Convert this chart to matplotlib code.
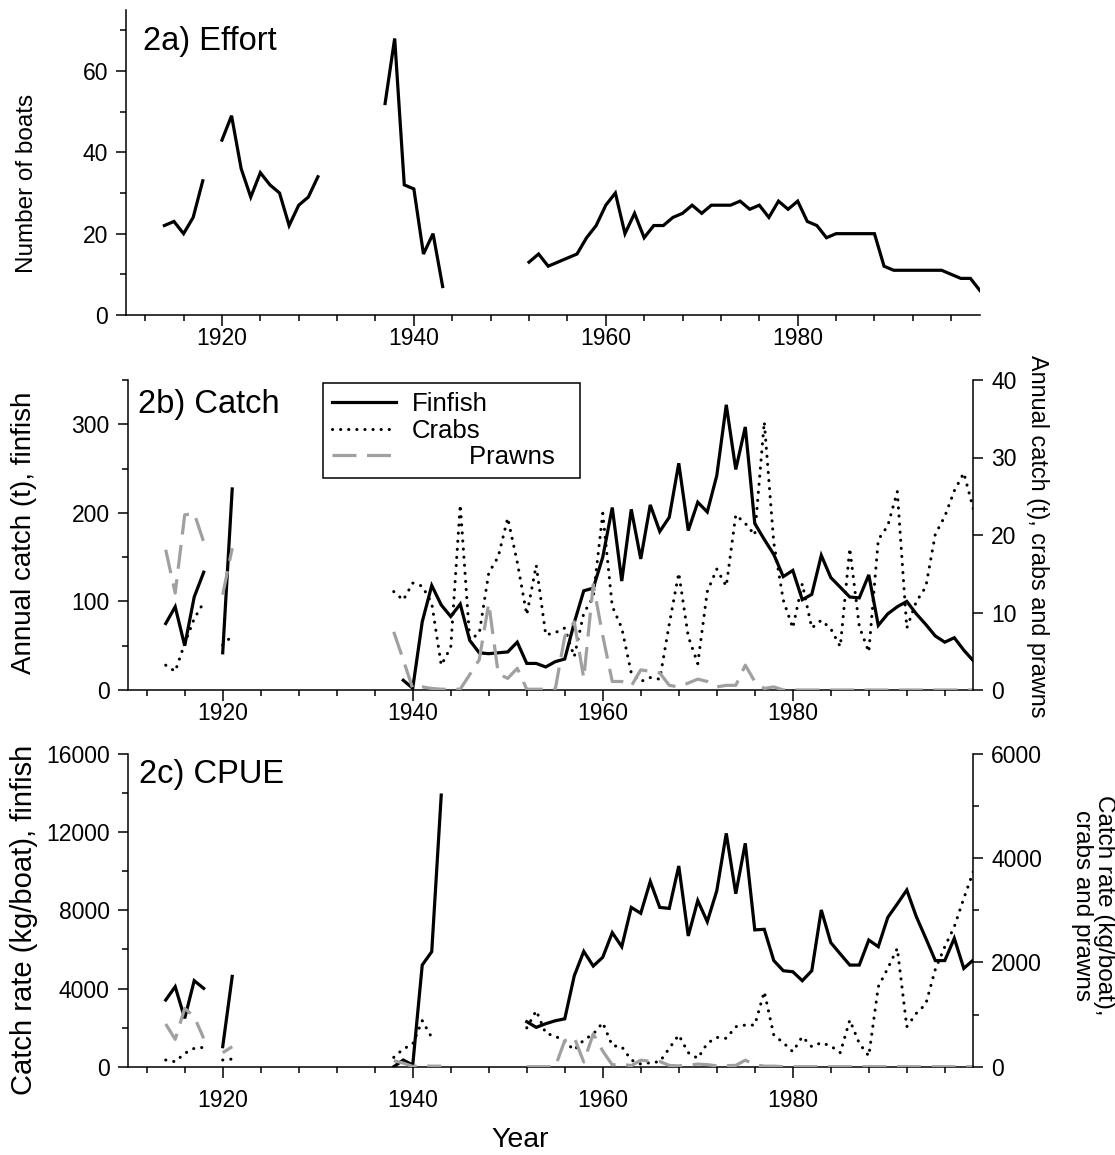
import numpy as np
import matplotlib
matplotlib.use("Agg")
import matplotlib.pyplot as plt
from matplotlib.ticker import MultipleLocator, FixedLocator

plt.rcParams['font.family'] = ['Liberation Sans', 'DejaVu Sans']

N = None
years = list(range(1914, 2000))

# ---- 2a) Effort: number of boats (1914..1999) ----
effort = [22, 23, 20, 24, 33, N,                                   # 1914-1919
          43, 49, 36, 29, 35, 32, 30, 22, 27, 29,                  # 1920-1929
          34, N, N, N, N, N, N, 52, 68, 32,                        # 1930-1939
          31, 15, 20, 7, N, N, N, N, N, N,                         # 1940-1949
          N, N, 13, 15, 12, 13, 14, 15, 19, 22,                    # 1950-1959
          27, 30, 20, 25, 19, 22, 22, 24, 25, 27,                  # 1960-1969
          25, 27, 27, 27, 28, 26, 27, 24, 28, 26,                  # 1970-1979
          28, 23, 22, 19, 20, 20, 20, 20, 20, 12,                  # 1980-1989
          11, 11, 11, 11, 11, 11, 10, 9, 9, 6]                     # 1990-1999

# ---- 2b) Annual catch (t) ----
catch_finfish = [75, 94, 50, 105, 133, N,
                 42, 227, N, N, N, N, N, N, N, N,
                 N, N, N, N, N, N, N, N, N, 11,
                 2, 77, 118, 96, 83, 97, 56, 42, 41, 42,
                 43, 54, 30, 30, 26, 32, 35, 76, 112, 115,
                 150, 206, 123, 204, 148, 209, 179, 195, 256, 180,
                 212, 201, 242, 322, 249, 297, 188, 170, 153, 128,
                 135, 102, 108, 152, 127, 116, 105, 104, 130, 73,
                 86, 94, 100, 86, 74, 61, 54, 59, 45, 33]

catch_crabs = [3.2, 2.4, 6.0, 9.2, 11.3, N,
               5.8, 7.0, N, N, N, N, N, N, N, N,
               N, N, N, N, N, N, N, N, 12.7, 11.6,
               13.8, 13.4, 11.2, 3.2, 5.5, 23.9, 6.5, 7.3, 15.1, 17.2,
               22.2, 16.5, 9.7, 16.1, 7.1, 7.4, 8.0, 4.3, 9.9, 12.0,
               22.8, 10.8, 8.0, 2.2, 1.1, 1.6, 1.4, 8.5, 15.1, 6.9,
               3.4, 12.7, 15.6, 13.4, 22.6, 21.5, 20.0, 34.6, 19.0, 11.6,
               8.0, 13.7, 8.0, 9.0, 7.9, 5.6, 18.3, 8.2, 4.9, 19.4,
               21.2, 25.6, 8.0, 11.4, 13.3, 20.1, 22.4, 25.7, 28.0, 23.4]

catch_prawns = [18.1, 12.5, 22.6, 22.8, 19.1, N,
                12.3, 18.3, N, N, N, N, N, N, N, N,
                N, N, N, N, N, N, N, N, 7.5, 3.9,
                0.2, 0.4, 0.2, 0.1, 0.1, 0.1, 2.0, 3.9, 11.2, 2.1,
                1.5, 2.8, 0.1, 0.1, 0.1, 0.1, 6.9, 8.8, 1.5, 13.6,
                7.0, 1.1, 1.1, 0.5, 2.6, 2.4, 2.2, 0.6, 0.4, 0.9,
                1.4, 1.1, 0.4, 0.6, 0.6, 3.2, 1.1, 0.2, 0.4, 0.0,
                0.0, 0.0, 0.0, 0.0, 0.0, 0.0, 0.0, 0.0, 0.0, 0.0,
                0.0, 0.0, 0.0, 0.0, 0.0, 0.0, 0.0, 0.0, 0.0, 0.0]

# ---- 2c) CPUE (kg/boat) ----
cpue_finfish = [3412, 4094, 2474, 4401, 4009, N,
                1024, 4620, N, N, N, N, N, N, N, N,
                N, N, N, N, N, N, N, N, 0, 341,
                85, 5203, 5885, 13900, N, N, N, N, N, N,
                N, N, 2303, 2013, 2200, 2350, 2450, 4650, 5900, 5150,
                5600, 6860, 6140, 8150, 7850, 9480, 8150, 8100, 10270, 6690,
                8500, 7420, 9000, 11940, 8850, 11430, 7000, 7030, 5430, 4910,
                4860, 4400, 4910, 8020, 6350, 5770, 5200, 5200, 6480, 6140,
                7640, 8330, 9040, 7680, 6570, 5430, 5430, 6570, 5030, 5460]

cpue_crabs = [128, 96, 256, 352, 371, N,
              128, 147, N, N, N, N, N, N, N, N,
              N, N, N, N, N, N, N, N, 179, 339,
              435, 883, 560, N, N, N, N, N, N, N,
              N, N, 745, 1075, 640, 588, 480, 320, 512, 627,
              844, 403, 384, 128, 51, 77, 96, 352, 608, 269,
              160, 448, 563, 544, 767, 799, 799, 1439, 608, 460,
              288, 576, 384, 460, 397, 269, 895, 448, 205, 1535,
              1887, 2270, 767, 1023, 1202, 1867, 2302, 2686, 3230, 3743]

cpue_prawns = [819, 524, 1119, 959, 544, N,
               269, 384, N, N, N, N, N, N, N, N,
               N, N, N, N, N, N, N, N, 115, 70,
               5, 15, 10, 10, N, N, N, N, N, N,
               N, N, 0, 0, 0, 0, 500, 560, 90, 630,
               300, 35, 50, 20, 125, 105, 100, 25, 15, 30,
               50, 40, 15, 20, 25, 125, 40, 10, 10, 0,
               0, 0, 0, 0, 0, 0, 0, 0, 0, 0,
               0, 0, 0, 0, 0, 0, 0, 0, 0, 0]

major_years = [1920, 1940, 1960, 1980]
year_labels = ['1920', '1940', '1960', '1980']


def arr(v):
    return np.array(v, dtype=float)


yrs = np.array(years, dtype=float)

W, H = 1115, 1155
fig = plt.figure(figsize=(W / 100, H / 100), dpi=100)


def axes_px(l, t, r, b):
    return fig.add_axes([l / W, 1 - b / H, (r - l) / W, (b - t) / H])


TICK = 16.5
FIN = dict(color='black', lw=2.3, solid_joinstyle='miter')
CRAB = dict(color='black', lw=2.2, linestyle=(0, (0.05, 2.6)), dash_capstyle='round')
PRAWN = dict(color='#a0a0a0', lw=2.3, linestyle=(0, (7.5, 3.3)))


def style_x(ax, pad):
    ax.set_xlim(1910, 1999)
    ax.xaxis.set_major_locator(FixedLocator(major_years))
    ax.set_xticklabels(year_labels)
    ax.xaxis.set_minor_locator(MultipleLocator(4))
    ax.tick_params(axis='x', which='major', direction='out', length=8, width=1.1,
                   labelsize=TICK, pad=pad)
    ax.tick_params(axis='x', which='minor', direction='out', length=4.5, width=1.1)


def style_y(ax, side='left'):
    ax.tick_params(axis='y', which='major', direction='out', length=7, width=1.1,
                   labelsize=TICK, pad=6)
    ax.tick_params(axis='y', which='minor', direction='out', length=4, width=1.1)
    for s in ax.spines.values():
        s.set_linewidth(1.1)
    ax.spines['top'].set_visible(False)
    if side == 'left':
        ax.spines['right'].set_visible(False)
    else:
        ax.spines['left'].set_visible(False)
        ax.spines['bottom'].set_visible(False)


# ---------------- Panel a ----------------
axa = axes_px(126, 10, 980, 315)
axa.plot(yrs, arr(effort), **FIN)
style_x(axa, pad=0.5)
axa.set_ylim(0, 75)
axa.yaxis.set_major_locator(FixedLocator([0, 20, 40, 60]))
axa.yaxis.set_minor_locator(MultipleLocator(10))
style_y(axa)
axa.text(0.0196, 0.869, '2a) Effort', transform=axa.transAxes, fontsize=23.5,
         va='baseline', ha='left')

# ---------------- Panel b ----------------
axb = axes_px(127.7, 380, 973.3, 690)
axb2 = axb.twinx()
l_fin, = axb.plot(yrs, arr(catch_finfish), label='Finfish', **FIN)
l_crab, = axb2.plot(yrs, arr(catch_crabs), label='Crabs', **CRAB)
l_prawn, = axb2.plot(yrs, arr(catch_prawns), label='        Prawns', **PRAWN)
style_x(axb, pad=0.5)
axb.set_ylim(0, 350)
axb.yaxis.set_major_locator(FixedLocator([0, 100, 200, 300]))
axb.yaxis.set_minor_locator(MultipleLocator(50))
style_y(axb)
axb2.set_ylim(0, 40)
axb2.yaxis.set_major_locator(FixedLocator([0, 10, 20, 30, 40]))
style_y(axb2, side='right')
axb.text(0.0125, 0.893, '2b) Catch', transform=axb.transAxes, fontsize=23.5,
         va='baseline', ha='left')
leg_w = (580 - 323) / 845.6
leg = axb2.legend(handles=[l_fin, l_crab, l_prawn], loc='upper left',
                  bbox_to_anchor=(0.231, 0.0, leg_w, 0.990), mode='expand',
                  fontsize=18.5, frameon=True,
                  fancybox=False, framealpha=1, edgecolor='black',
                  handlelength=2.5, handletextpad=0.6, labelspacing=0.1,
                  borderpad=0.35, borderaxespad=0)
leg.get_frame().set_linewidth(1.1)

# ---------------- Panel c ----------------
axc = axes_px(127.7, 754, 973.3, 1066.7)
axc2 = axc.twinx()
axc.plot(yrs, arr(cpue_finfish), **FIN)
axc2.plot(yrs, arr(cpue_crabs), **CRAB)
axc2.plot(yrs, arr(cpue_prawns), **PRAWN)
style_x(axc, pad=8)
axc.set_ylim(0, 16000)
axc.yaxis.set_major_locator(FixedLocator([0, 4000, 8000, 12000, 16000]))
axc.yaxis.set_minor_locator(MultipleLocator(2000))
style_y(axc)
axc2.set_ylim(0, 6000)
axc2.yaxis.set_major_locator(FixedLocator([0, 2000, 4000, 6000]))
axc2.yaxis.set_minor_locator(MultipleLocator(1000))
style_y(axc2, side='right')
axc.text(0.0137, 0.906, '2c) CPUE', transform=axc.transAxes, fontsize=23.5,
         va='baseline', ha='left')

# ---------------- Axis labels ----------------
fig.text(27 / W, 1 - 183 / H, 'Number of boats', rotation=90, ha='center',
         va='center', fontsize=17.5)
fig.text(24 / W, 1 - 533 / H, 'Annual catch (t), finfish', rotation=90,
         ha='center', va='center', fontsize=20)
fig.text(24 / W, 1 - 920 / H, 'Catch rate (kg/boat), finfish', rotation=90,
         ha='center', va='center', fontsize=21)
fig.text(1038 / W, 1 - 536 / H, 'Annual catch (t), crabs and prawns',
         rotation=270, ha='center', va='center', fontsize=16.8)
fig.text(1093 / W, 1 - 905 / H, 'Catch rate (kg/boat),\ncrabs and prawns',
         rotation=270, ha='center', va='center', multialignment='center',
         fontsize=17.5, linespacing=0.95)
fig.text(520 / W, 1 - 1140 / H, 'Year', ha='center', va='center', fontsize=20.5)

fig.savefig('out.png', dpi=100)
